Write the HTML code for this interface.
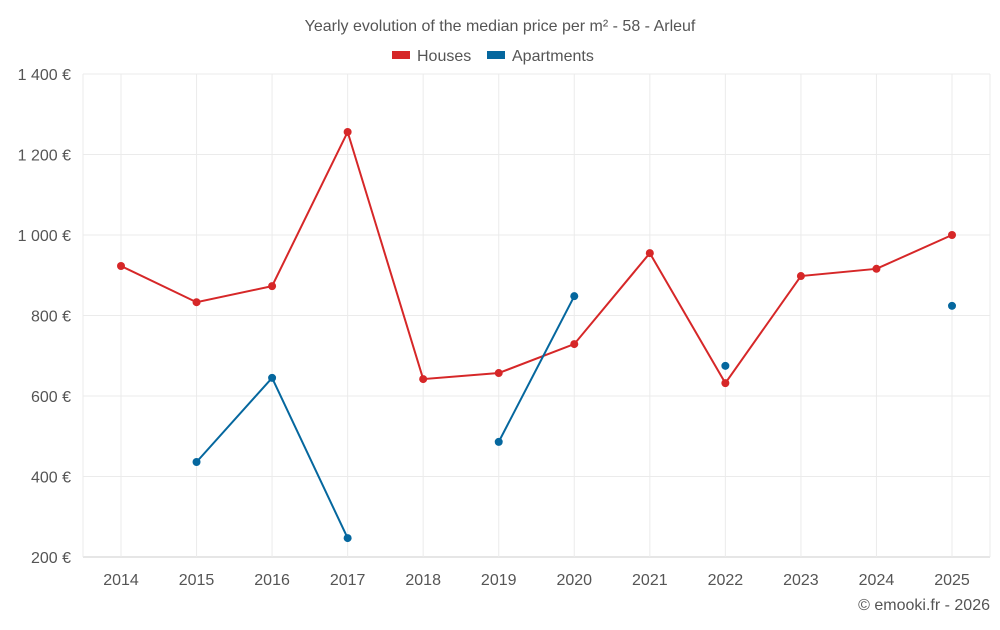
<!DOCTYPE html>
<html><head><meta charset="utf-8"><style>
body{margin:0;background:#fff;font-family:"Liberation Sans",sans-serif;}
svg text{font-family:"Liberation Sans",sans-serif;fill:#555;}
</style></head><body>
<svg id="c" width="1000" height="625">
<text x="500" y="31" text-anchor="middle" font-size="16">Yearly evolution of the median price per m² - 58 - Arleuf</text>
<g>
<rect x="392" y="51" width="18" height="8" fill="#d62728"/>
<text x="417" y="61" font-size="16">Houses</text>
<rect x="487" y="51" width="18" height="8" fill="#05679e"/>
<text x="512" y="61" font-size="16">Apartments</text>
</g>
<g id="grid"></g><g id="axes"></g><g id="marks"></g>
<text x="990" y="610" text-anchor="end" font-size="16">© emooki.fr - 2026</text>
</svg>
<script>
const years=[2014,2015,2016,2017,2018,2019,2020,2021,2022,2023,2024,2025];
const houses=[923,833,873,1256,642,657,729,955,632,898,916,1000];
const apartments=[null,436,645,247,null,486,848,null,675,null,null,824];
const yTicks=[200,400,600,800,1000,1200,1400];
const yTickLabels=["200 €","400 €","600 €","800 €","1 000 €","1 200 €","1 400 €"];
const L=83,R=990,T=74,B=557,ymin=200,ymax=1400;
const NS="http://www.w3.org/2000/svg";
const x=i=>121+i*(952-121)/(years.length-1);
const y=v=>B-(v-ymin)/(ymax-ymin)*(B-T);
function mk(t,a,p){const e=document.createElementNS(NS,t);for(const k in a)e.setAttribute(k,a[k]);p.appendChild(e);return e;}
const g=document.getElementById('grid'),ax=document.getElementById('axes'),m=document.getElementById('marks');
yTicks.forEach((v,i)=>{
 const l=mk('line',{x1:L,x2:R,y1:y(v),y2:y(v),stroke:i==0?'#ccc':'#ebebeb'},g);
 
 
 const t=mk('text',{x:71,y:y(v)+6,'text-anchor':'end','font-size':16},ax);t.textContent=yTickLabels[i];
 
 
});
[L,R].forEach(px=>{const l=mk('line',{x1:px,x2:px,y1:T,y2:B,stroke:'#ebebeb'},g);
 
 });
years.forEach((yr,i)=>{
 const l=mk('line',{x1:x(i),x2:x(i),y1:T,y2:B,stroke:'#ebebeb'},g);
 
 
 const t=mk('text',{x:x(i),y:585,'text-anchor':'middle','font-size':16},ax);t.textContent=yr;
 
 
});
function series(data,color,name){
 let seg=[];
 const flush=()=>{if(seg.length>1){const p=mk('polyline',{points:seg.join(' '),fill:'none',stroke:color,'stroke-width':2},m);
  
  }seg=[];};
 data.forEach((v,i)=>{if(v==null){flush();return;}seg.push(x(i)+','+y(v));});flush();
 data.forEach((v,i)=>{if(v==null)return;const c=mk('circle',{cx:x(i),cy:y(v),r:4,fill:color},m);
  
  });
}
series(houses,'#d62728','houses');
series(apartments,'#05679e','apartments');
</script>
</body></html>
